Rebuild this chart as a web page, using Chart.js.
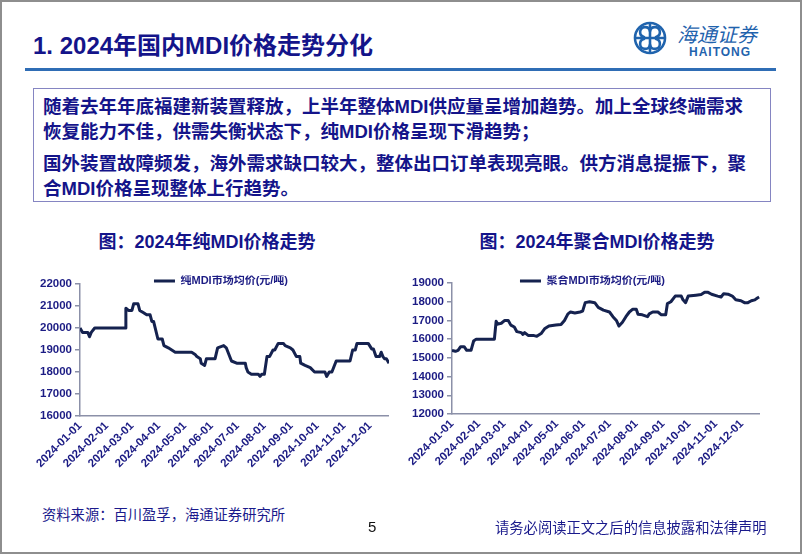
<!DOCTYPE html>
<html lang="zh-CN">
<head>
<meta charset="utf-8">
<title>2024年国内MDI价格走势分化</title>
<script src="https://cdn.jsdelivr.net/npm/chart.js@4.4.1/dist/chart.umd.min.js"></script>
<style>
body { margin: 0; }
#page { position: relative; width: 802px; height: 554px; background: #fff; overflow: hidden;
  font-family: "Liberation Sans", "Noto Sans CJK SC", sans-serif; }
#frame { position: absolute; left: 0; top: 0; width: 802px; height: 554px; box-sizing: border-box; border: 2px solid #8e8e8e; }
.t { position: absolute; white-space: nowrap; }
#title { left: 33px; top: 31px; font-size: 24px; font-weight: bold; color: #14148a; line-height: 30px; }
#logo { position: absolute; left: 630px; top: 20px; }
#rule { position: absolute; left: 25px; top: 68px; width: 751px; height: 3px; background: #2f6db5; }
#box { position: absolute; left: 33px; top: 88px; width: 738px; height: 114px; box-sizing: border-box;
  border: 1px solid #8585c2; padding: 5px 0 0 9px; font-size: 18.5px; font-weight: bold; color: #14148a;
  line-height: 25px; white-space: nowrap; }
#box p { margin: 0; }
#box p + p { margin-top: 7px; }
.ct { position: absolute; top: 230px; font-size: 18px; font-weight: bold; color: #14148a; line-height: 24px;
  white-space: nowrap; transform: translateX(-50%); }
canvas { position: absolute; }
#src { left: 42px; top: 507px; font-size: 14.3px; line-height: 16px; color: #1a1a8c; }
#pg { left: 368px; top: 519px; font-size: 15px; line-height: 16px; color: #111; }
#note { left: 495px; top: 520px; font-size: 14.3px; line-height: 16px; color: #1a1a8c; }
</style>
</head>
<body>
<div id="page">
  <div id="title" class="t">1. 2024年国内MDI价格走势分化</div>
  <svg id="logo" width="150" height="44">
    <g fill="none" stroke="#1f63ad" stroke-width="2.6" stroke-linecap="round">
      <circle cx="20" cy="18" r="15"/>
      <path d="M20 5 V31 M7 18 H33"/>
      <path d="M20 11 a5 5 0 1 0 -6 6 M20 25 a5 5 0 1 0 6 -6"/>
      <path d="M20 11 a5 5 0 1 1 6 6 M20 25 a5 5 0 1 1 -6 -6"/>
    </g>
    <text x="47" y="22" font-size="20" font-style="italic" fill="#1f63ad" font-family="Noto Sans CJK SC">海通证券</text>
    <text x="59" y="36" font-size="12" font-weight="bold" letter-spacing="1" fill="#1f63ad" font-family="Liberation Sans">HAITONG</text>
  </svg>
  <div id="rule"></div>
  <div id="box">
    <p>随着去年年底福建新装置释放，上半年整体MDI供应量呈增加趋势。加上全球终端需求<br>恢复能力不佳，供需失衡状态下，纯MDI价格呈现下滑趋势；</p>
    <p>国外装置故障频发，海外需求缺口较大，整体出口订单表现亮眼。供方消息提振下，聚<br>合MDI价格呈现整体上行趋势。</p>
  </div>
  <div class="ct" style="left:207px">图：2024年纯MDI价格走势</div>
  <div class="ct" style="left:597px">图：2024年聚合MDI价格走势</div>
  <canvas id="chart_l" width="369" height="213" style="left:20px;top:263px"></canvas>
  <canvas id="chart_r" width="368" height="212" style="left:392px;top:262px"></canvas>
  <div class="t" id="src">资料来源：百川盈孚，海通证券研究所</div>
  <div class="t" id="pg">5</div>
  <div class="t" id="note">请务必阅读正文之后的信息披露和法律声明</div>
  <div id="frame"></div>
</div>
<script>
const monthTicks = ['2024-01-01', '2024-02-01', '2024-03-01', '2024-04-01', '2024-05-01', '2024-06-01',
    '2024-07-01', '2024-08-01', '2024-09-01', '2024-10-01', '2024-11-01', '2024-12-01']

// 纯MDI市场均价(元/吨)
const pureDates = ['2024-01-01', '2024-01-04', '2024-01-10', '2024-01-12', '2024-01-14', '2024-01-18',
    '2024-02-22', '2024-02-23', '2024-02-26', '2024-03-01', '2024-03-03', '2024-03-08', '2024-03-10',
    '2024-03-14', '2024-03-18', '2024-03-22', '2024-03-24', '2024-03-26', '2024-03-31', '2024-04-05',
    '2024-04-07', '2024-04-12', '2024-04-16', '2024-04-20', '2024-05-09', '2024-05-13', '2024-05-15',
    '2024-05-19', '2024-05-20', '2024-05-24', '2024-05-26', '2024-06-05', '2024-06-08', '2024-06-15',
    '2024-06-18', '2024-06-24', '2024-06-30', '2024-07-10', '2024-07-11', '2024-07-13', '2024-07-17',
    '2024-07-25', '2024-07-27', '2024-07-29', '2024-08-01', '2024-08-04', '2024-08-07', '2024-08-11',
    '2024-08-13', '2024-08-17', '2024-08-23', '2024-08-25', '2024-08-31', '2024-09-03', '2024-09-07',
    '2024-09-11', '2024-09-12', '2024-09-17', '2024-09-23', '2024-09-28', '2024-10-10', '2024-10-12',
    '2024-10-15', '2024-10-18', '2024-10-23', '2024-11-08', '2024-11-11', '2024-11-14', '2024-11-16',
    '2024-11-29', '2024-12-03', '2024-12-05', '2024-12-08', '2024-12-12', '2024-12-14', '2024-12-16',
    '2024-12-18', '2024-12-20', '2024-12-23']
const pureValues = [20000, 19800, 19800, 19600, 19800, 20000,
    20000, 20900, 20800, 20800, 21100, 21100, 20800,
    20700, 20600, 20600, 20300, 20300, 19500, 19500,
    19200, 19100, 19000, 18900, 18900, 18800, 18700,
    18600, 18400, 18300, 18600, 18600, 19100, 19200,
    19100, 18500, 18400, 18400, 18200, 18000, 17900,
    17900, 17800, 17900, 17900, 18700, 18700, 19000,
    19000, 19300, 19300, 19200, 19100, 19000, 18700,
    18700, 18400, 18300, 18200, 18000, 18000, 17800,
    18000, 18000, 18500, 18500, 19000, 19000, 19300,
    19300, 19050, 19050, 18700, 18700, 18900, 18700,
    18600, 18600, 18400]

// 聚合MDI市场均价(元/吨)
const polyDates = ['2024-01-01', '2024-01-05', '2024-01-08', '2024-01-11', '2024-01-15', '2024-01-18',
    '2024-01-23', '2024-01-26', '2024-01-29', '2024-02-19', '2024-02-21', '2024-02-23', '2024-02-27',
    '2024-03-02', '2024-03-06', '2024-03-09', '2024-03-13', '2024-03-16', '2024-03-21', '2024-03-23',
    '2024-03-25', '2024-03-29', '2024-04-04', '2024-04-08', '2024-04-13', '2024-04-17', '2024-04-22',
    '2024-04-30', '2024-05-06', '2024-05-10', '2024-05-14', '2024-05-17', '2024-05-22', '2024-05-28',
    '2024-05-31', '2024-06-03', '2024-06-08', '2024-06-14', '2024-06-18', '2024-06-24', '2024-07-01',
    '2024-07-05', '2024-07-09', '2024-07-12', '2024-07-16', '2024-07-20', '2024-07-24', '2024-07-28',
    '2024-08-01', '2024-08-03', '2024-08-08', '2024-08-14', '2024-08-16', '2024-08-20', '2024-08-26',
    '2024-08-30', '2024-09-04', '2024-09-06', '2024-09-10', '2024-09-15', '2024-09-22', '2024-09-24',
    '2024-09-27', '2024-09-30', '2024-10-09', '2024-10-15', '2024-10-19', '2024-10-23', '2024-10-27',
    '2024-11-03', '2024-11-07', '2024-11-10', '2024-11-15', '2024-11-20', '2024-11-24', '2024-11-30',
    '2024-12-04', '2024-12-08', '2024-12-12', '2024-12-16', '2024-12-19', '2024-12-21']
const polyValues = [15400, 15350, 15400, 15600, 15600, 15400,
    15400, 15900, 16000, 16000, 16950, 16800, 16850,
    17000, 17000, 16750, 16650, 16400, 16350, 16250,
    16350, 16200, 16200, 16150, 16300, 16550, 16700,
    16750, 16780, 17000, 17350, 17450, 17400, 17450,
    17500, 17950, 18000, 17950, 17700, 17550, 17450,
    17200, 17000, 16700, 16900, 17200, 17450, 17600,
    17600, 17330, 17300, 17200, 17350, 17450, 17450,
    17300, 17300, 17900, 18000, 18300, 18300, 18100,
    17950, 18300, 18350, 18380, 18500, 18500, 18400,
    18300, 18250, 18430, 18400, 18300, 18100, 18050,
    17950, 17950, 18050, 18100, 18200, 18250]

const pureTicks = [16000, 17000, 18000, 19000, 20000, 21000, 22000]
const polyTicks = [12000, 13000, 14000, 15000, 16000, 17000, 18000, 19000]

const axisColor = '#8b90a8'
const textColor = '#1c1c84'
const lineColor = '#15224f'

Chart.defaults.font.family = '"Liberation Sans", "Noto Sans CJK SC", sans-serif'
Chart.defaults.font.weight = 'bold'
Chart.defaults.color = textColor

const dayOf = s => (Date.parse(s) - Date.parse('2024-01-01')) / 864e5

// nudge the legend so it sits on the top edge of the plot like the original
const legendShift = {
    id: 'legendShift',
    afterLayout(chart, args, opts) {
        const lg = chart.legend
        lg.left += opts.dx; lg.right += opts.dx
        lg.top += opts.dy; lg.bottom += opts.dy
    }
}

function makeChart(id, label, dates, values, yTicks, xMax, dy) {
    return new Chart(document.getElementById(id), {
        type: 'line',
        data: {
            datasets: [{
                label: label,
                data: dates.map((d, i) => ({x: dayOf(d), y: values[i]})),
                borderColor: lineColor,
                backgroundColor: lineColor,
                borderWidth: 3,
                borderJoinStyle: 'round',
                pointRadius: 0,
                tension: 0
            }]
        },
        options: {
            responsive: false,
            animation: false,
            events: [],
            plugins: {
                legend: {
                    labels: {
                        usePointStyle: true,
                        pointStyle: 'line',
                        pointStyleWidth: 21,
                        padding: 0,
                        color: textColor,
                        font: {size: 11, weight: 'bold'}
                    }
                },
                tooltip: {enabled: false},
                legendShift: {dx: 16.5, dy: dy}
            },
            scales: {
                x: {
                    type: 'linear',
                    min: 0,
                    max: xMax,
                    afterBuildTicks: s => { s.ticks = monthTicks.map(d => ({value: dayOf(d)})) },
                    afterFit: s => { s.height = 60 },
                    grid: {display: false, drawTicks: false},
                    border: {color: axisColor, width: 1.5},
                    ticks: {
                        autoSkip: false,
                        minRotation: 45,
                        maxRotation: 45,
                        padding: 3,
                        color: textColor,
                        font: {size: 11.5, weight: 'bold'},
                        callback: (v, i) => monthTicks[i]
                    }
                },
                y: {
                    min: yTicks[0],
                    max: yTicks[yTicks.length - 1],
                    afterBuildTicks: s => { s.ticks = yTicks.map(v => ({value: v})) },
                    afterFit: s => { s.width = 60 },
                    grid: {drawOnChartArea: false, color: axisColor, lineWidth: 1.5, tickLength: 5},
                    border: {color: axisColor, width: 1.5},
                    ticks: {
                        padding: 3,
                        color: textColor,
                        font: {size: 11.5, weight: 'bold'},
                        callback: v => String(v)
                    }
                }
            }
        },
        plugins: [legendShift]
    })
}

makeChart('chart_l', '纯MDI市场均价(元/吨)', pureDates, pureValues, pureTicks, 357, 12.5)
makeChart('chart_r', '聚合MDI市场均价(元/吨)', polyDates, polyValues, polyTicks, 356, 13.5)
</script>
</body>
</html>
